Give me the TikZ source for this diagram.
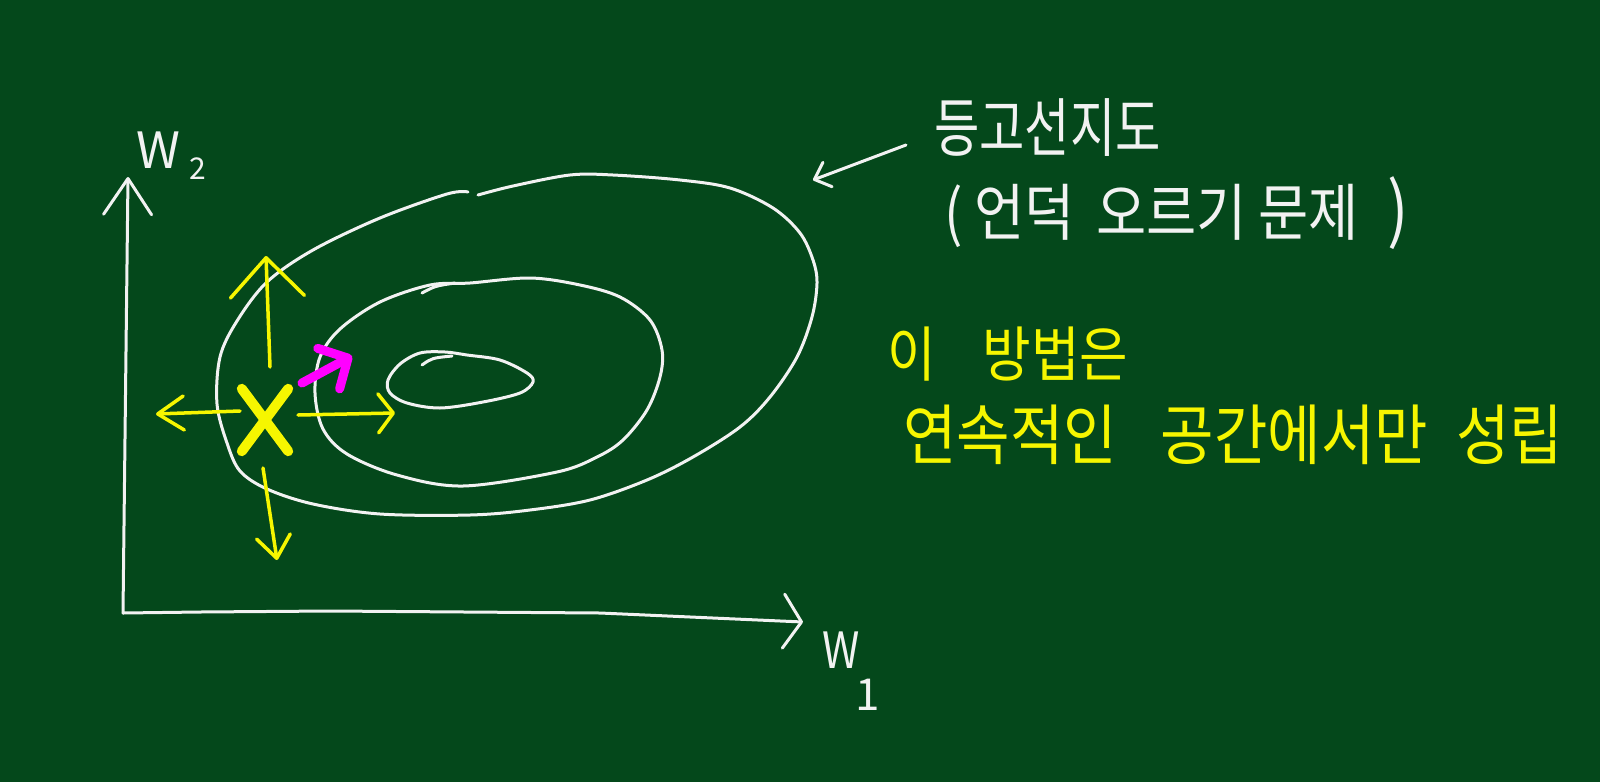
\documentclass[tikz,border=0pt]{standalone}
\usepackage{fontspec}
\newfontfamily\kor{Noto Sans CJK KR}
\newfontfamily\korhand[FakeStretch=0.77]{Noto Sans CJK KR}
\newfontfamily\korwide[FakeStretch=0.88]{Noto Sans CJK KR}
\usepackage{tikz}
\usetikzlibrary{arrows.meta}

\definecolor{board}{RGB}{4,72,27}
\definecolor{chalkwhite}{RGB}{242,242,242}
\definecolor{chalkyellow}{RGB}{246,246,0}
\definecolor{chalkpink}{RGB}{255,0,255}

\begin{document}
\begin{tikzpicture}
		[
		x = 1pt, y = -1pt,
		line cap = round, line join = round,
		contour/.style = {chalkwhite, line width = 3pt},
		axis/.style = {chalkwhite, line width = 3pt},
		move/.style = {chalkyellow, line width = 3.5pt},
		xmark/.style = {chalkyellow, line width = 10pt},
		better/.style = {chalkpink, line width = 9pt},
		note/.style = {chalkwhite, inner sep = 0pt, font = \korhand\fontsize{64}{68}\selectfont},
		subnote/.style = {chalkwhite, inner sep = 0pt, font = \korwide\fontsize{62}{66}\selectfont},
		remark/.style = {chalkyellow, inner sep = 0pt, font = \korwide\fontsize{66}{70}\selectfont},
		axislabel/.style = {chalkwhite, inner sep = 0pt, font = \kor\fontsize{50}{50}\selectfont}
		]
		
		\fill[board] (0,0) rectangle (1600,782);
		
		\coordinate (origin) at (123,613);
		\coordinate (w2end) at (128,177);
		\coordinate (w1end) at (803,622);
		\draw[axis, -{Straight Barb[round, length=36pt, width=48pt]}] (origin) -- (w2end);
		\draw[axis, -{Straight Barb[round, length=18pt, width=54pt]}] (origin) -- (200,612) -- (330,611) -- (600,613) -- (w1end);
		\node[axislabel, anchor=base west] (w2) at (136,168) {W\kern9pt\raisebox{-11pt}{\fontsize{30}{30}\selectfont 2}};
		\node[axislabel, anchor=base west] (w1) at (822,668) {\scalebox{0.85}[1]{W}\kern-4pt\raisebox{-42pt}{\fontsize{44}{44}\selectfont 1}};
		
		\draw[contour] plot[smooth, tension=0.55] coordinates {(478,195) (513,186) (570,175) (613,175) (680,180) (730,188) (773,208) (800,233) (813,260) (817,283) (812,317) (797,357) (770,397) (740,427) (693,457) (647,480) (590,500) (530,510) (470,515) (380,514) (313,504) (267,489) (240,471) (227,443) (217,404) (220,357) (237,321) (267,282) (313,250) (380,218) (447,194) (468,192)};
		\draw[contour] plot[smooth cycle, tension=0.55] coordinates {(470,283) (530,278) (580,285) (620,297) (650,320) (662,350) (660,377) (647,410) (623,440) (597,457) (557,472) (463,486) (397,475) (347,454) (323,429) (315,393) (320,357) (340,329) (380,302) (430,285)};
		\draw[contour] (422,293) .. controls (435,286) .. (455,283);
		\draw[contour] plot[smooth cycle, tension=0.55] coordinates {(445,352) (467,355) (500,360) (527,373) (533,382) (520,393) (483,402) (440,408) (407,403) (390,393) (388,380) (400,364) (420,353)};
		\draw[contour] (422,365) .. controls (432,358) .. (452,356);
		
		\node[inner sep=0pt, minimum width=46pt, minimum height=62pt] (cross) at (265,420) {};
		\draw[xmark] (cross.north west) -- (cross.south east);
		\draw[xmark] (cross.north east) -- (cross.south west);
		
		\coordinate (upS) at (270,367);
		\coordinate (upE) at (266,256);
		\coordinate (leftS) at (240,411);
		\coordinate (leftE) at (156,414);
		\coordinate (rightS) at (298,415);
		\coordinate (rightE) at (395,413);
		\coordinate (downS) at (263,468);
		\coordinate (downE) at (277,560);
		\coordinate (betterS) at (302,383);
		\coordinate (betterE) at (352,356);
		\draw[move, -{Straight Barb[round, length=39pt, width=74pt]}] (upS) -- (upE);
		\draw[move, -{Straight Barb[round, length=26pt, width=34pt]}] (leftS) -- (leftE);
		\draw[move, -{Straight Barb[round, length=15pt, width=39pt]}] (rightS) -- (rightE);
		\draw[move, -{Straight Barb[round, length=22pt, width=34pt]}] (downS) -- (downE);
		\draw[better, -{Straight Barb[round, length=22pt, width=46pt]}] (betterS) -- (betterE);
		
		\node[note, anchor=west] (title) at (934,128) {등고선지도};
		\node[subnote, anchor=west] (hill) at (944,213) {{\fontsize{62}{62}\selectfont(}\hspace{12pt}언덕\hspace{21pt}오르기\hspace{12pt}문제\hspace{28pt}{\fontsize{72}{72}\selectfont)}};
		\coordinate (mapnote) at (906,145);
		\coordinate (maptip) at (813,180);
		\draw[axis, -{Straight Barb[round, length=14pt, width=26pt]}] (mapnote) -- (maptip);
		
		\node[remark, anchor=west, font=\korwide\fontsize{60}{64}\selectfont] (method) at (887,354) {이\hspace{47pt}방법은};
		\node[remark, anchor=west] (space) at (903,435) {연속적인\hspace{44pt}공간에서만\hspace{28pt}성립};
		
\end{tikzpicture}
\end{document}
